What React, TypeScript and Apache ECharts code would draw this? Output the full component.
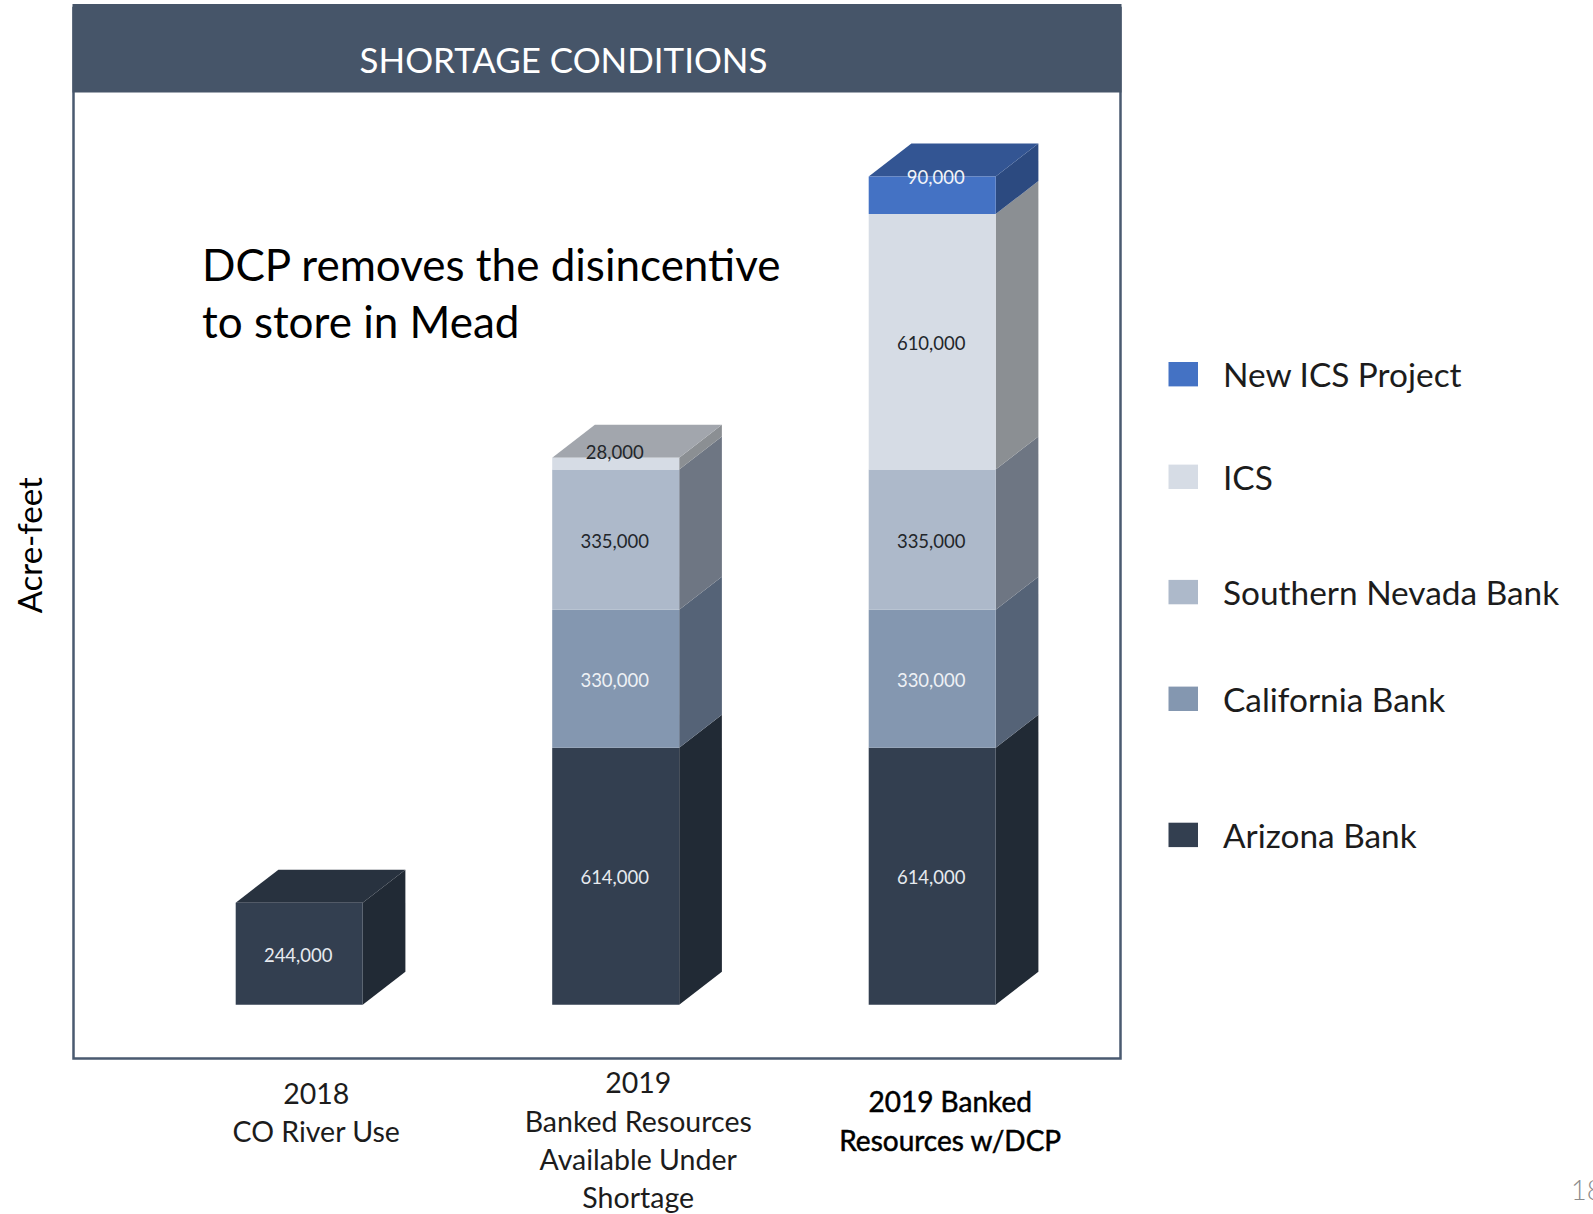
import React, { useEffect, useRef } from "react";
import * as echarts from "echarts";

const CATEGORY_LINES = [
  ["2018", "CO River Use"],
  ["2019", "Banked Resources", "Available Under", "Shortage"],
  ["2019 Banked", "Resources w/DCP"],
];
const SERIES_NAMES = ["Arizona Bank", "California Bank", "Southern Nevada Bank", "ICS", "New ICS Project"];
const ARIZONA = [244000, 614000, 614000];
const CALIFORNIA = [null, 330000, 330000];
const NEVADA = [null, 335000, 335000];
const ICS = [null, 28000, 610000];
const NEW_ICS = [null, null, 90000];
const SERIES_VALUES = [ARIZONA, CALIFORNIA, NEVADA, ICS, NEW_ICS];

const FRONT = ["#333f50", "#8497b0", "#adb9ca", "#d6dce5", "#4472c4"];
const SIDE = ["#212a35", "#556377", "#6e7683", "#8b8f93", "#2c4a80"];
const TOP = ["#28323f", "#68768a", "#8a93a1", "#a2a6ad", "#335593"];
const LABEL = ["#e6eaef", "#eef1f5", "#22262b", "#22262b", "#f2f4f8"];
const LEGEND_CENTER = [834.6, 698.5, 591.8, 476.5, 373.9];

const FONT = "Lato";
const BAR_W = 127;
const DX = 42.7;
const DY = 33;
const PLOT = { left: 73.5, top: 4, right: 1120.5, bottom: 1058.5, headerBottom: 92.5 };
const GRID = { left: 140.95, width: 949.5, baseline: 1004.8, height: 837.2 };

const faceRows: number[][] = [];
CATEGORY_LINES.forEach((_, c) => {
  let base = 0;
  let last = -1;
  const rows: number[][] = [];
  SERIES_VALUES.forEach((vals, s) => {
    const v = vals[c];
    if (v == null) return;
    rows.push([c, base, base + v, s, 0]);
    base += v;
    last = rows.length - 1;
  });
  rows[last][4] = 1;
  faceRows.push(...rows);
});

const renderFaces = (_p: any, api: any) => {
  const c = api.value(0);
  const s = api.value(3);
  const a = api.coord([c, api.value(1)]);
  const b = api.coord([c, api.value(2)]);
  const x = a[0] + BAR_W / 2;
  const children: any[] = [
    {
      type: "polygon",
      shape: { points: [[x, a[1]], [x, b[1]], [x + DX, b[1] - DY], [x + DX, a[1] - DY]] },
      style: { fill: SIDE[s] },
    },
  ];
  if (api.value(4) === 1) {
    children.push({
      type: "polygon",
      shape: { points: [[x - BAR_W, b[1]], [x, b[1]], [x + DX, b[1] - DY], [x - BAR_W + DX, b[1] - DY]] },
      style: { fill: TOP[s] },
    });
  }
  return { type: "group", children };
};

const labelOffset = (s: number, c: number): number[] => {
  if (s === 3 && c === 1) return [-1, -12];
  if (s === 4) return [3.5, -18.5];
  return [-1, 1];
};

export default function App() {
  const ref = useRef<HTMLDivElement>(null);
  useEffect(() => {
    const chart = echarts.init(ref.current!, null, { renderer: "svg" });
    const LEFT_PAD = [34, 45, 36];
    const TOP_EXTRA = [10, 0, 19];
    const FIRST_LIFT = [4, 5, 6];
    const rich: any = {};
    [0, 1, 2].forEach((i) => {
      const base: any = {
        fontFamily: FONT,
        fontSize: i === 2 ? 28 : 28.5,
        fontWeight: 400,
        color: i === 2 ? "#000" : "#1c1c1c",
        lineHeight: 38,
        padding: [0, 0, 0, LEFT_PAD[i]],
      };
      if (i === 2) {
        base.textBorderColor = "#000";
        base.textBorderWidth = 0.5;
      }
      rich["l" + i] = base;
      rich["f" + i] = {
        ...base,
        lineHeight: 38 + TOP_EXTRA[i],
        verticalAlign: "bottom",
        padding: [0, 0, FIRST_LIFT[i], LEFT_PAD[i]],
      };
    });
    chart.setOption({
      animation: false,
      backgroundColor: "#fff",
      title: {
        text: "SHORTAGE CONDITIONS",
        left: 558.5,
        top: 37,
        textAlign: "center",
        textStyle: { color: "#fff", fontFamily: FONT, fontSize: 34.9, fontWeight: 400 },
      },
      grid: {
        left: GRID.left,
        width: GRID.width,
        top: GRID.baseline - GRID.height,
        height: GRID.height,
        outerBoundsMode: "none",
      },
      xAxis: {
        type: "category",
        data: CATEGORY_LINES.map((l) => l.join("\n")),
        axisLine: { show: false },
        axisTick: { show: false },
        axisLabel: {
          interval: 0,
          margin: 59,
          formatter: (_v: string, i: number) =>
            CATEGORY_LINES[i].map((t, j) => `{${j === 0 ? "f" : "l"}${i}|${t}}`).join("\n"),
          rich,
        },
      },
      yAxis: {
        type: "value",
        min: 0,
        max: 2000000,
        splitLine: { show: false },
        axisLine: { show: false },
        axisTick: { show: false },
        axisLabel: { show: false },
        name: "Acre-feet",
        nameLocation: "middle",
        nameRotate: 90,
        nameGap: 95,
        nameTextStyle: { fontFamily: FONT, fontSize: 33, fontWeight: 400, color: "#000", padding: [0, 0, 0, 82] },
      },
      legend: SERIES_NAMES.map((n, i) => ({
        data: [n],
        left: 1163.5,
        top: LEGEND_CENTER[i] - 21.2,
        itemWidth: 29.5,
        itemHeight: 24.4,
        icon: "rect",
        selectedMode: false,
        textStyle: {
          fontFamily: FONT,
          fontSize: 33.4,
          fontWeight: 400,
          color: "#1c1c1c",
          padding: [0, 0, 0, 20],
        },
      })),
      graphic: [
        { type: "rect", z: 0, shape: { x: PLOT.left, y: PLOT.top + 4, width: PLOT.right - PLOT.left, height: PLOT.bottom - PLOT.top - 4 }, style: { fill: "#fff", stroke: "#4a5a70", lineWidth: 2.5 } },
        { type: "rect", z: 0, shape: { x: PLOT.left - 1, y: PLOT.top, width: PLOT.right - PLOT.left + 2, height: PLOT.headerBottom - PLOT.top }, style: { fill: "#465569" } },
        { type: "text", z: 5, x: 202, y: 235, style: { text: "DCP removes the disincentive\nto store in Mead", fontFamily: FONT, fontSize: 44, fontWeight: 400, lineHeight: 57.5, fill: "#000" } },
        { type: "text", z: 5, x: 1571, y: 1176, style: { text: "18", fontFamily: FONT, fontSize: 27, fontWeight: 300, fill: "#8c8c8c" } },
      ],
      series: [
        {
          type: "custom",
          name: "faces",
          z: 1,
          clip: false,
          data: faceRows,
          encode: { x: 0, y: [1, 2] },
          renderItem: renderFaces,
          silent: true,
        },
        ...SERIES_NAMES.map((n, s) => ({
          type: "bar",
          name: n,
          stack: "total",
          barWidth: BAR_W,
          z: 2,
          itemStyle: { color: FRONT[s] },
          label: {
            show: true,
            position: "inside",
            fontFamily: FONT,
            fontSize: 18.5,
            fontWeight: 400,
            color: LABEL[s],
            formatter: (p: any) => Number(p.value).toLocaleString("en-US"),
          },
          data: SERIES_VALUES[s].map((v, c) => ({ value: v, label: { offset: labelOffset(s, c) } })),
        })),
      ],
    });
    return () => chart.dispose();
  }, []);
  return <div ref={ref} style={{ position: "fixed", left: 0, top: 0, width: 1593, height: 1214 }} />;
}
